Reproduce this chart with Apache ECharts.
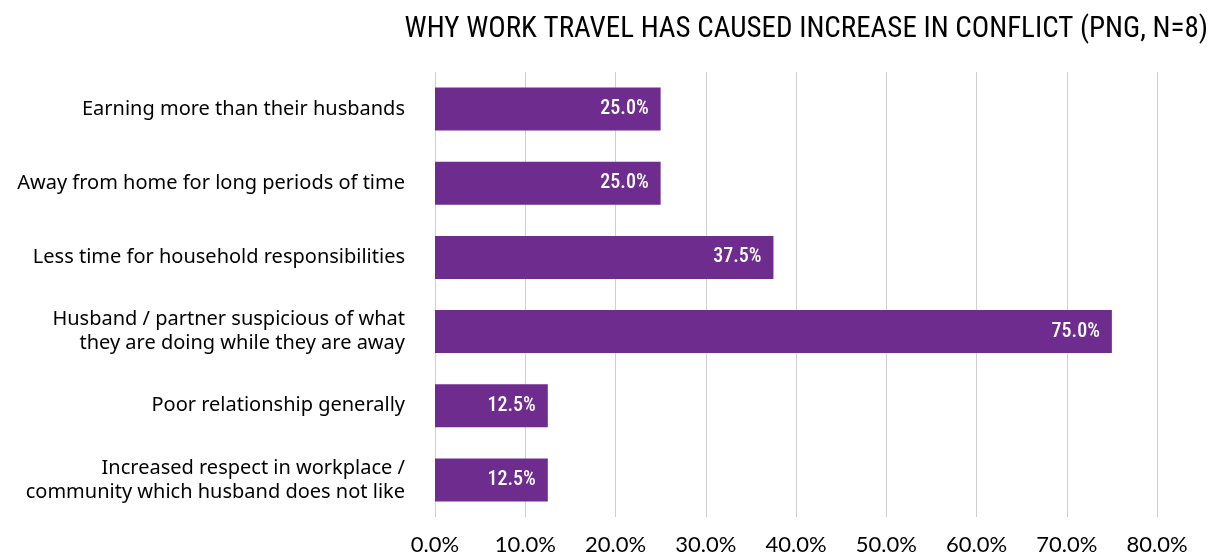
<!DOCTYPE html>
<html>
<head>
<meta charset="utf-8">
<script src="https://cdn.jsdelivr.net/npm/echarts@6/dist/echarts.min.js"></script>
<style>
  html, body { margin: 0; padding: 0; background: #fff; }
  #chart { width: 1216px; height: 556px; }
</style>
</head>
<body>
<div id="chart"></div>
<script>
// Reasons given (top to bottom) and share of respondents, in percent
const categories = [
  'Earning more than their husbands',
  'Away from home for long periods of time',
  'Less time for household responsibilities',
  'Husband / partner suspicious of what\nthey are doing while they are away',
  'Poor relationship generally',
  'Increased respect in workplace /\ncommunity which husband does not like'
];
const shares = [25.0, 25.0, 37.5, 75.0, 12.5, 12.5];
const axisTicks = [0, 10, 20, 30, 40, 50, 60, 70, 80];

const chart = echarts.init(document.getElementById('chart'));
const condensed = '"Roboto Condensed", "Liberation Sans Narrow", sans-serif';

chart.setOption({
  animation: false,
  title: {
    text: 'WHY WORK TRAVEL HAS CAUSED INCREASE IN CONFLICT (PNG, N=8)',
    right: 3,
    top: 10,
    textStyle: { fontFamily: condensed, fontSize: 29, fontWeight: 'normal', color: '#000' }
  },
  grid: { left: 435, right: 59, top: 72, bottom: 34, containLabel: false },
  xAxis: {
    type: 'value',
    min: axisTicks[0],
    max: axisTicks[axisTicks.length - 1],
    interval: 10,
    axisLine: { show: false },
    axisTick: { show: false },
    splitLine: { show: true, lineStyle: { color: '#d0d0d0', width: 1 } },
    axisLabel: {
      formatter: v => v.toFixed(1) + '%',
      margin: 17,
      fontFamily: 'Lato, sans-serif',
      fontSize: 22,
      color: '#000'
    }
  },
  yAxis: {
    type: 'category',
    inverse: true,
    data: categories,
    axisLine: { show: false },
    axisTick: { show: false },
    axisLabel: {
      margin: 30,
      fontFamily: '"Noto Sans", sans-serif',
      fontSize: 20,
      lineHeight: 24,
      color: '#000',
      align: 'right'
    }
  },
  series: [{
    type: 'bar',
    data: shares,
    barWidth: 43,
    itemStyle: { color: '#6f2c8f' },
    label: {
      show: true,
      position: 'insideRight',
      distance: 12,
      formatter: p => p.value.toFixed(1) + '%',
      fontFamily: condensed,
      fontSize: 20,
      fontWeight: 500,
      color: '#fff'
    }
  }]
});
</script>
</body>
</html>
